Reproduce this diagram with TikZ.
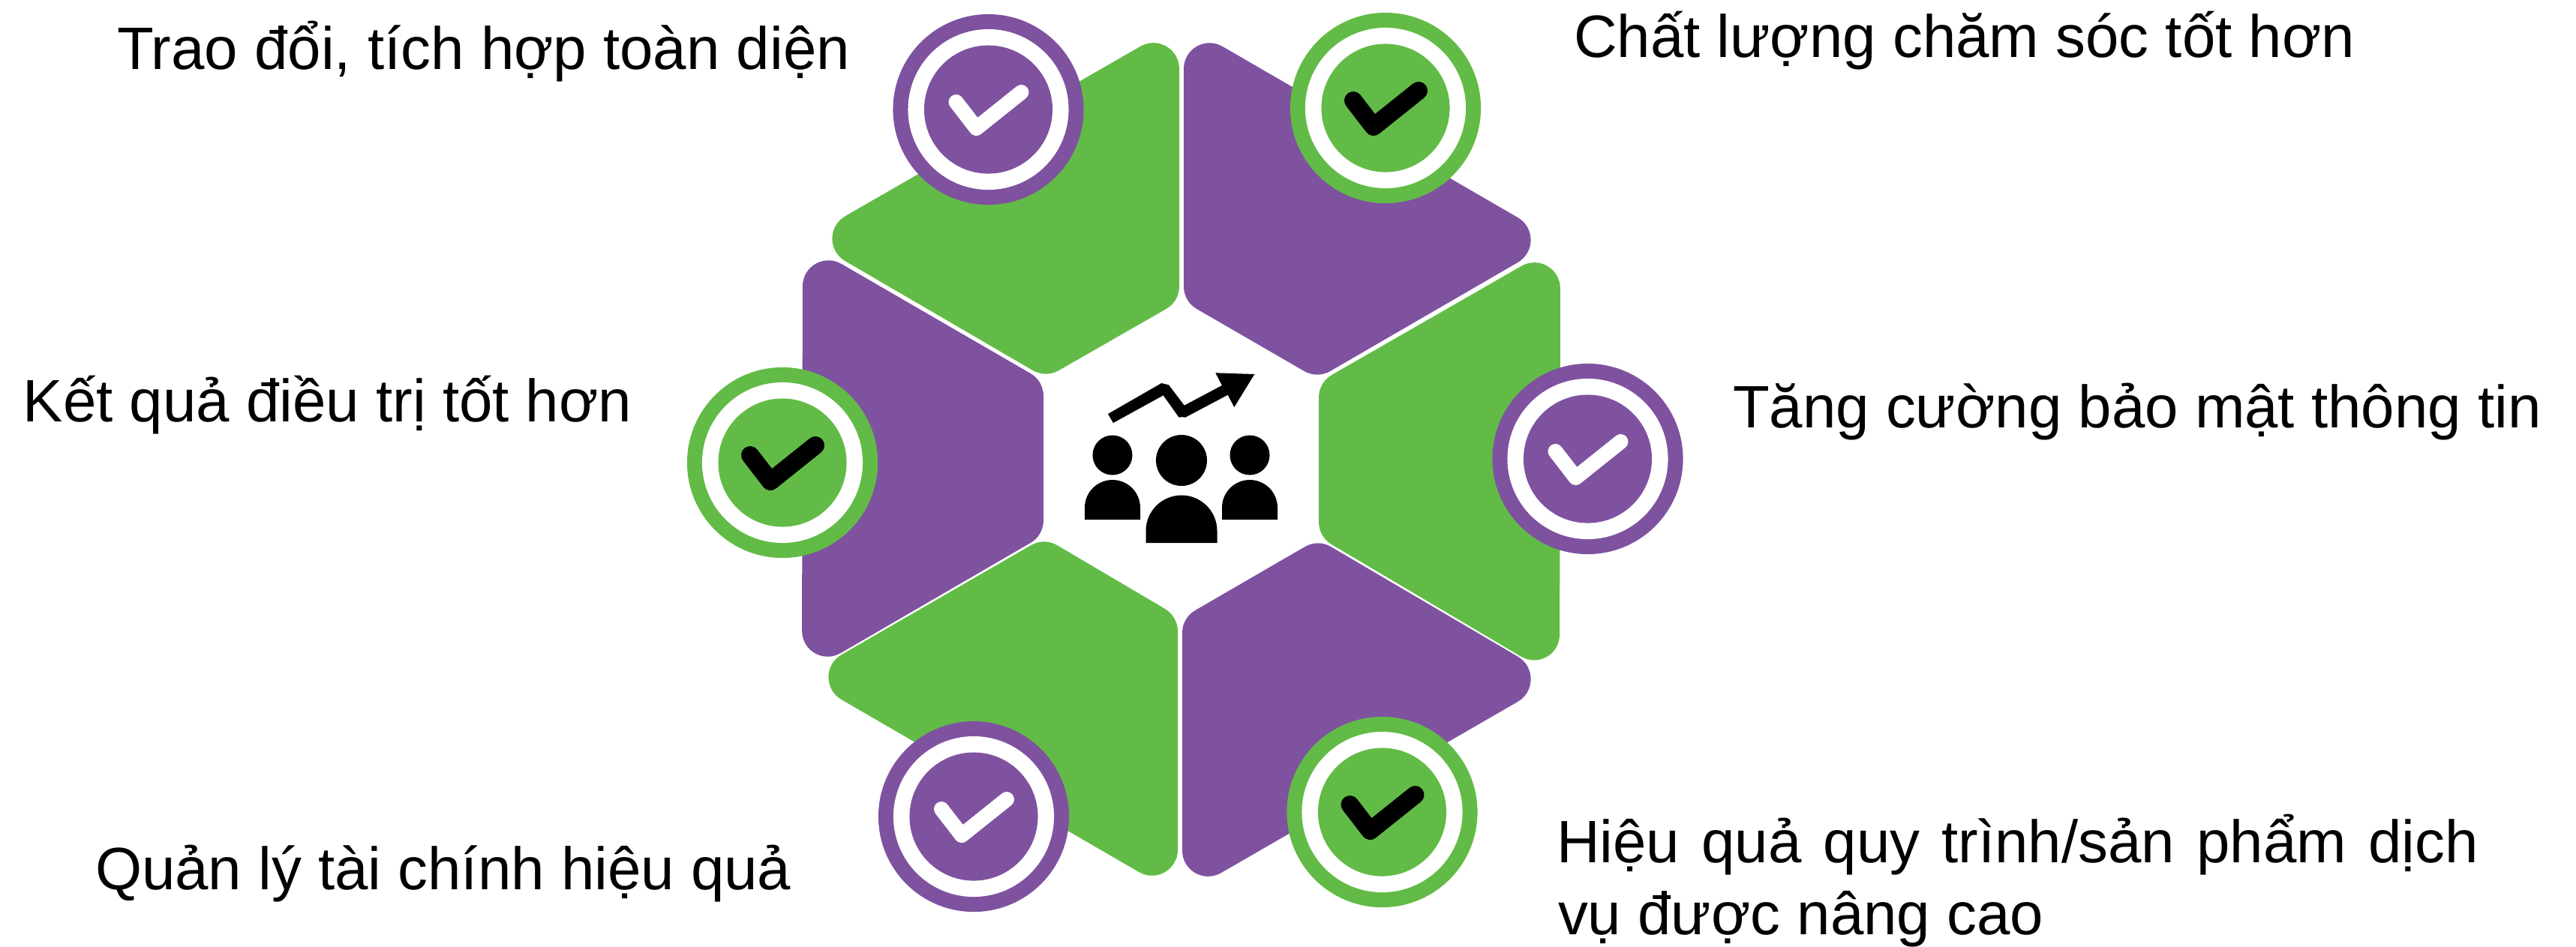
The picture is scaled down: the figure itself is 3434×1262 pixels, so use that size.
\documentclass[tikz,border=0pt]{standalone}
\usepackage{fontspec}
\setmainfont{Liberation Sans}
\usetikzlibrary{calc}
\definecolor{gr}{HTML}{62BB46}
\definecolor{pu}{HTML}{7F52A0}
% one rounded corner at #2 between neighbours #1 and #3; #4 = tangent distance, #5 = control distance
\def\cor#1#2#3#4#5{-- ($(#2)!#4!(#1)$) .. controls ($(#2)!#5!(#1)$) and ($(#2)!#5!(#3)$) .. ($(#2)!#4!(#3)$)}
\newcommand\kite[5]{\fill[#1] ($(#5)!0.5!(#2)$) \cor{#5}{#2}{#3}{0.6cm}{0.33cm} \cor{#2}{#3}{#4}{0.6cm}{0.33cm} \cor{#3}{#4}{#5}{0.2cm}{0.076cm} \cor{#4}{#5}{#2}{0.2cm}{0.076cm} -- cycle;}
\newcommand\badge[5]{%
  \node[outerdisc,fill=#3] (#1) at (#2) {};
  \node[whitedisc] at (#1) {};
  \node[innerdisc,fill=#3] at (#1) {};
  \draw[tick,draw=#4,line width=#5] ($(#1)+(-43,-10)$) -- ($(#1)+(-16,25)$) -- ($(#1)+(44,-23)$);
}
\tikzset{
  outerdisc/.style={circle,inner sep=0pt,outer sep=0pt,minimum size=2.54cm},
  whitedisc/.style={circle,inner sep=0pt,outer sep=0pt,minimum size=2.14cm,fill=white},
  innerdisc/.style={circle,inner sep=0pt,outer sep=0pt,minimum size=1.71cm},
  tick/.style={line cap=round,line join=round},
  lbl/.style={anchor=base west,inner sep=0pt,outer sep=0pt,font=\fontsize{22.7}{28}\selectfont},
  ico/.style={fill=black}
}
\newcommand\person[5]{% head x,y,R ; body half width, bottom y
  \fill[ico] (#1,#2) circle[radius=#3];
  \fill[ico] ({#1-#4},#5) -- ({#1-#4},{#5-16}) arc[start angle=180,end angle=360,radius=#4] -- ({#1+#4},#5) -- cycle;
}
\begin{document}
\begin{tikzpicture}[x=0.01cm,y=-0.01cm]
\useasboundingbox (0,0) rectangle (3434,1262);
\kite{gr}{1572,32}{1075,318}{1394,504}{1572,402}
\kite{pu}{1578,32}{2075,320}{1756,505}{1578,402}
\kite{pu}{1070,322}{1069,901}{1391,714}{1391,508}
\kite{gr}{2080,325}{2079,906}{1758,716}{1758,510}
\kite{gr}{1570,1193}{1070,903}{1392,717}{1570,822}
\kite{pu}{1576,1194}{2075,906}{1757,719}{1576,824}
\badge{b1}{1317.5,146}{pu}{white}{0.20cm}
\badge{b2}{1847,144}{gr}{black}{0.24cm}
\badge{b3}{2116.5,612}{pu}{white}{0.20cm}
\badge{b4}{1043,617}{gr}{black}{0.24cm}
\badge{b5}{1298,1089}{pu}{white}{0.20cm}
\badge{b6}{1842.5,1083}{gr}{black}{0.24cm}
% icon
\person{1483}{607}{26.5}{37}{693}
\person{1575}{614}{34}{47.5}{724}
\person{1666}{607}{26.5}{37}{693}
\fill[ico] (1477,552) -- (1548.3,511) to[out=-30,in=150] (1558,513.3) -- (1578.7,540.7) -- (1629,514) -- (1620.3,497.3) -- (1672.3,499) -- (1645.3,543) -- (1636.7,526.7) -- (1580,556.7) to[out=170,in=20] (1571.7,556.7) -- (1550.7,527.3) -- (1484,564) -- cycle;
% labels
\node[lbl] (t1) at (156,92) {Trao đổi, tích hợp toàn diện};
\node[lbl] (t2) at (2098,76) {Chất lượng chăm sóc tốt hơn};
\node[lbl] (t3) at (31,562) {Kết quả điều trị tốt hơn};
\node[lbl] (t4) at (2310,570) {Tăng cường bảo mật thông tin};
\node[lbl] (t5) at (127,1186) {Quản lý tài chính hiệu quả};
\node[lbl] (t6) at (2075,1150) {\hbox to 12.28cm{Hiệu\hfil\ quả\hfil\ quy\hfil\ trình/sản\hfil\ phẩm\hfil\ dịch}};
\node[lbl] (t7) at (2077,1246) {vụ được nâng cao};
\end{tikzpicture}
\end{document}
